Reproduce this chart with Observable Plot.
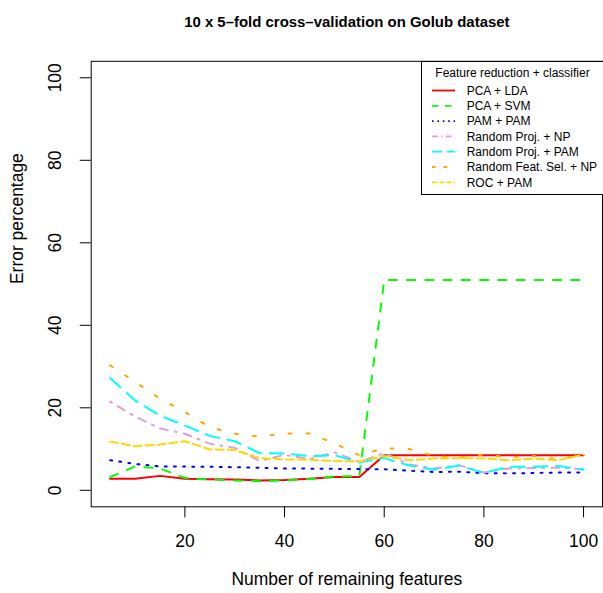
<!DOCTYPE html>
<html><head><meta charset="utf-8">
<script src="https://cdn.jsdelivr.net/npm/d3@7"></script>
<script src="https://cdn.jsdelivr.net/npm/@observablehq/plot@0.6"></script>
<style>
html,body{margin:0;padding:0;background:#fff;overflow:hidden;}
#wrap{position:relative;width:603px;height:593px;overflow:hidden;background:#fff;}
#legend{position:absolute;left:421px;top:60.5px;}
</style></head><body><div id="wrap"></div>
<script>
// ---- data ----
const features = [5,10,15,20,25,30,35,40,45,50,55,60,65,70,75,80,85,90,95,100];
const pcaLda   = [2.8,2.8,3.5,2.8,2.7,2.6,2.4,2.5,2.8,3.2,3.2,8.5,8.5,8.5,8.5,8.5,8.5,8.5,8.5,8.5];
const pcaSvm   = [3.2,5.8,5.3,3.0,2.6,2.4,2.2,2.4,2.7,3.4,3.4,51,51,51,51,51,51,51,51,51];
const pamPam   = [7.3,6.4,5.8,5.75,5.7,5.6,5.45,5.3,5.25,5.2,5.15,5.1,4.75,4.45,4.5,4.15,4.1,4.2,4.3,4.3];
const rpNp     = [21.5,17.9,15.0,13.7,11.3,10.3,7.1,8.6,7.6,9.2,6.9,9.0,6.3,5.3,6.1,4.3,5.3,5.4,5.5,5.1];
const rpPam    = [27.2,21.8,18.1,15.7,13.2,11.9,9.0,8.9,8.3,8.5,6.8,7.8,6.0,5.0,6.0,4.2,5.7,5.7,5.9,5.0];
const rfsNp    = [30.3,26.3,22.2,19.0,15.3,13.7,13.0,13.8,13.8,11.4,8.5,10.2,10.0,8.3,7.9,8.7,8.0,8.3,7.5,8.7];
const rocPam   = [11.8,10.7,11.1,11.9,9.9,9.8,7.8,7.5,7.4,7.1,7.0,8.3,7.3,7.7,7.8,7.7,7.3,7.7,7.3,8.7];

const seriesNames = ["PCA + LDA","PCA + SVM","PAM + PAM","Random Proj. + NP","Random Proj. + PAM","Random Feat. Sel. + NP","ROC + PAM"];
const seriesValues = [pcaLda, pcaSvm, pamPam, rpNp, rpPam, rfsNp, rocPam];
const xTicks = [20,40,60,80,100];
const yTicks = [0,20,40,60,80,100];
const titleText = "10 x 5\u2013fold cross\u2013validation on Golub dataset";
const xLabel = "Number of remaining features";
const yLabel = "Error percentage";
const legendTitle = "Feature reduction + classifier";

// ---- styles ----
const colors = ["#FF0000","#00FF00","#0000FF","#DDA0DD","#00FFFF","#FFA500","#FFD700"];
const plotDash = [null,"8.3,10","2,7.2","2,7,8,7","14,8.5","3,15","8,4"];
const legendDash = [null,"6.5,6.5","1.6,3.8","6,3,1.6,3","10,5","3.5,8","5,2.3"];
const font = '"Liberation Sans", Arial, Helvetica, sans-serif';

const rows = seriesNames.flatMap((name, i) => features.map((f, j) => ({series: name, x: f, y: seriesValues[i][j]})));

const chart = Plot.plot({
  width: 605, height: 593,
  marginLeft: 91, marginRight: 1, marginTop: 61, marginBottom: 85,
  style: {fontFamily: font, fontSize: "17.5px", background: "#fff", color: "#000", overflow: "visible"},
  x: {domain: [1.2, 103.8]},
  y: {domain: [-4, 104]},
  marks: [
    Plot.frame({stroke: "#000", strokeWidth: 1}),
    Plot.axisX({ticks: xTicks, tickSize: 11, tickPadding: 17, label: null, stroke: "#000"}),
    Plot.axisY({ticks: yTicks, tickSize: 11, tickPadding: 19, tickRotate: -90, label: null, stroke: "#000"}),
    ...seriesNames.map((name, i) => Plot.line(rows.filter(r => r.series === name), {
      x: "x", y: "y", stroke: colors[i], strokeWidth: 2,
      strokeDasharray: plotDash[i] || undefined, strokeLinejoin: "round"
    })),
    Plot.text([titleText], {frameAnchor: "top", dy: -45, text: d => d, fontSize: 15, fontWeight: "bold"}),
    Plot.text([xLabel], {frameAnchor: "bottom", dy: 78, text: d => d}),
    Plot.text([yLabel], {frameAnchor: "left", dx: -74, rotate: -90, text: d => d})
  ]
});
const wrap = document.getElementById("wrap");
wrap.appendChild(chart);

// ---- legend (overlay inside plot, top-right) ----
const lw = 183, lh = 134;
const lg = d3.create("svg").attr("id", "legend").attr("width", lw).attr("height", lh)
  .style("font-family", font).style("font-size", "12px");
lg.append("rect").attr("x", 0.5).attr("y", 0.5).attr("width", lw).attr("height", lh - 1)
  .attr("fill", "#fff").attr("stroke", "#000");
lg.append("text").attr("x", 91.5).attr("y", 11.5).attr("dy", "0.35em").attr("text-anchor", "middle").text(legendTitle);
seriesNames.forEach((name, i) => {
  const y = 29.5 + i * 15.3;
  lg.append("line").attr("x1", 11).attr("x2", 34).attr("y1", y).attr("y2", y)
    .attr("stroke", colors[i]).attr("stroke-width", 1.8)
    .attr("stroke-dasharray", legendDash[i]);
  lg.append("text").attr("x", 45.7).attr("y", y).attr("dy", "0.35em").text(name);
});
wrap.appendChild(lg.node());
</script></body></html>
